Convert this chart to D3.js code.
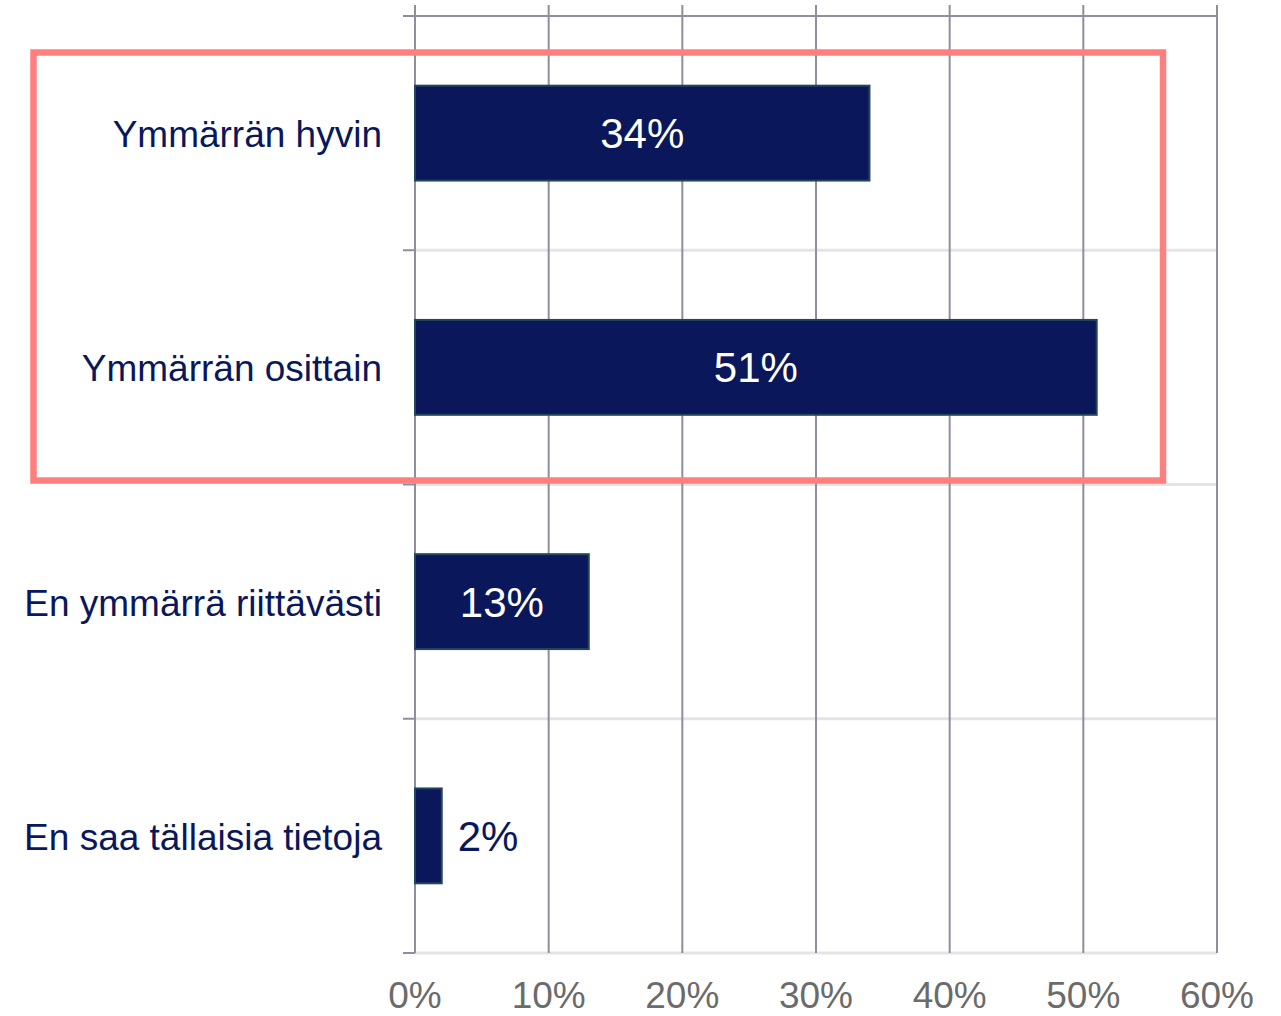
<!DOCTYPE html>
<meta charset="utf-8">
<style>
body { margin: 0; background: #fff; }
text { font-family: "Liberation Sans", Arial, sans-serif; }
</style>
<body>
<svg width="1281" height="1016"></svg>
<script src="https://d3js.org/d3.v7.min.js"></script>
<script>
// answers and shares (%)
var categories = ["Ymmärrän hyvin", "Ymmärrän osittain", "En ymmärrä riittävästi", "En saa tällaisia tietoja"];
var values = [34, 51, 13, 2];
var xTicks = [0, 10, 20, 30, 40, 50, 60];

var svg = d3.select("svg");
var navy = "#0a175a";

var x = d3.scaleLinear().domain([0, 60]).range([415, 1217]);
var y = d3.scaleBand().domain(categories).range([16, 953])
    .paddingInner(0.595).paddingOuter(0.2975);

// boundaries between categories
var bounds = d3.range(categories.length + 1).map(function(i) { return 16 + i * y.step(); });

svg.append("g").selectAll("line")
    .data(bounds.slice(1))
    .enter().append("line")
      .attr("x1", 415).attr("x2", 1217)
      .attr("y1", function(d) { return d; }).attr("y2", function(d) { return d; })
      .attr("stroke", "#e4e4e6").attr("stroke-width", 3);

// vertical grid
svg.append("g").selectAll("line")
    .data(xTicks)
    .enter().append("line")
      .attr("x1", function(d) { return x(d); }).attr("x2", function(d) { return x(d); })
      .attr("y1", 5).attr("y2", 953)
      .attr("stroke", "#8e8e9e").attr("stroke-width", 2);

// top line
svg.append("line")
    .attr("x1", 403).attr("x2", 1217).attr("y1", 16).attr("y2", 16)
    .attr("stroke", "#8e8e9e").attr("stroke-width", 2);

// left ticks
svg.append("g").selectAll("line")
    .data(bounds.slice(1))
    .enter().append("line")
      .attr("x1", 403).attr("x2", 415)
      .attr("y1", function(d) { return d; }).attr("y2", function(d) { return d; })
      .attr("stroke", "#8e8e9e").attr("stroke-width", 2);

// bars
svg.append("g").selectAll("rect")
    .data(values)
    .enter().append("rect")
      .attr("x", x(0))
      .attr("y", function(d, i) { return y(categories[i]); })
      .attr("width", function(d) { return x(d) - x(0); })
      .attr("height", y.bandwidth())
      .attr("fill", navy)
      .attr("stroke", "#25465a").attr("stroke-width", 2);

// value labels
svg.append("g").selectAll("text")
    .data(values)
    .enter().append("text")
      .attr("x", function(d) { return d < 5 ? x(d) + 16 : (x(0) + x(d)) / 2; })
      .attr("y", function(d, i) { return y(categories[i]) + y.bandwidth() / 2; })
      .attr("dy", "0.36em")
      .attr("text-anchor", function(d) { return d < 5 ? "start" : "middle"; })
      .attr("fill", function(d) { return d < 5 ? navy : "#fff"; })
      .style("font-size", "42px")
      .text(function(d) { return d + "%"; });

// category labels
svg.append("g").selectAll("text")
    .data(categories)
    .enter().append("text")
      .attr("x", 382)
      .attr("y", function(d) { return y(d) + y.bandwidth() / 2; })
      .attr("dy", "0.38em")
      .attr("text-anchor", "end")
      .attr("fill", navy)
      .style("font-size", "37px")
      .text(function(d) { return d; });

// x tick labels
svg.append("g").selectAll("text")
    .data(xTicks)
    .enter().append("text")
      .attr("x", function(d) { return x(d); })
      .attr("y", 1008)
      .attr("text-anchor", "middle")
      .attr("fill", "#6b6b6b")
      .style("font-size", "37px")
      .text(function(d) { return d + "%"; });

// highlight box around the first two answers
svg.append("rect")
    .attr("x", 33.5).attr("y", 52.5)
    .attr("width", 1163 - 33.5).attr("height", 480.5 - 52.5)
    .attr("fill", "none")
    .attr("stroke", "#ff7f7f").attr("stroke-width", 6.5);
</script>
</body>
